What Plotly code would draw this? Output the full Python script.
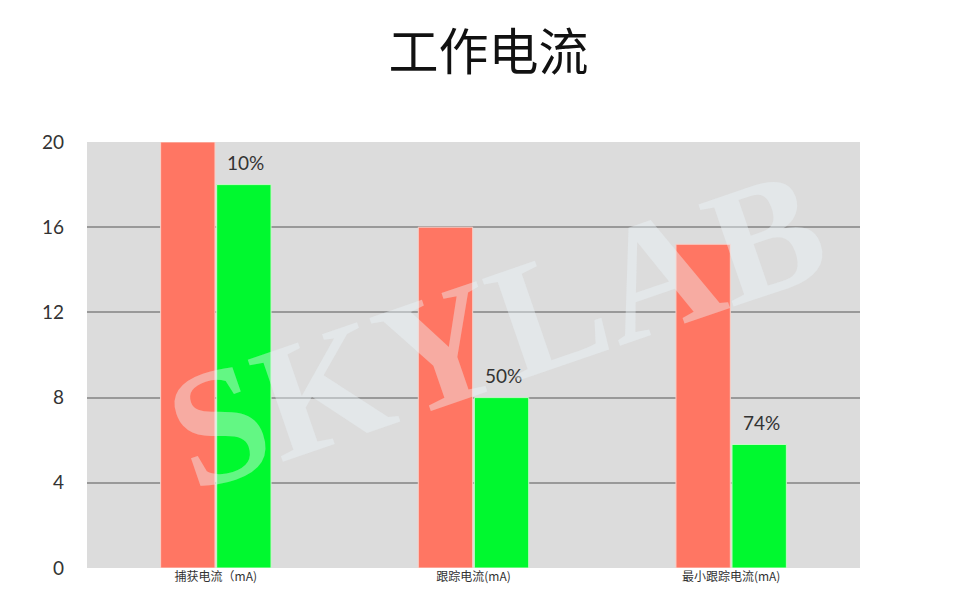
import plotly.graph_objects as go

categories = ["捕获电流（mA)", "跟踪电流(mA)", "最小跟踪电流(mA)"]
before_values = [20, 16, 15.2]
after_values = [18, 8, 5.8]
reduction_labels = ["10%", "50%", "74%"]
y_ticks = [0, 4, 8, 12, 16, 20]

fig = go.Figure()
fig.add_trace(go.Bar(x=categories, y=before_values, marker=dict(color="#ff7663", line=dict(color="#f8d0c8", width=1)), name="before"))
fig.add_trace(go.Bar(x=categories, y=after_values, marker=dict(color="#00f92f", line=dict(color="#c8f8c8", width=1)), name="after"))

for c, v, t in zip(categories, after_values, reduction_labels):
    fig.add_annotation(x=c, y=v, text=t, showarrow=False, xshift=30, yshift=22,
                       font=dict(family="Lato, Open Sans, sans-serif", size=19, color="#333333"))

# watermark
fig.add_annotation(xref="paper", yref="paper", x=0.53, y=0.56, text="<b>SKYLAB</b>", showarrow=False,
                   textangle=-19, font=dict(family="Liberation Serif, serif", size=165,
                                            color="rgba(235,245,250,0.42)"))

fig.update_layout(
    width=961, height=596,
    margin=dict(l=79, r=109, t=134, b=36),
    paper_bgcolor="white", plot_bgcolor="#dcdcdc",
    showlegend=False,
    barmode="group", bargap=0.565, bargroupgap=0.03,
    title=dict(text="工作电流", x=0.5, xanchor="center", y=0.925, yanchor="middle",
               font=dict(family="Noto Sans CJK SC", size=50, color="#111111")),
    xaxis=dict(showgrid=False, ticks="", tickfont=dict(family="Noto Sans CJK SC", size=12, color="#333333"), showline=False),
    yaxis=dict(range=[0, 20], tickvals=y_ticks, showgrid=True, gridcolor="#999999", gridwidth=1.5,
               zeroline=False, ticks="", ticklabelstandoff=22,
               tickfont=dict(family="Lato, Open Sans, sans-serif", size=19, color="#333333")),
)
fig.write_html("out.html")
